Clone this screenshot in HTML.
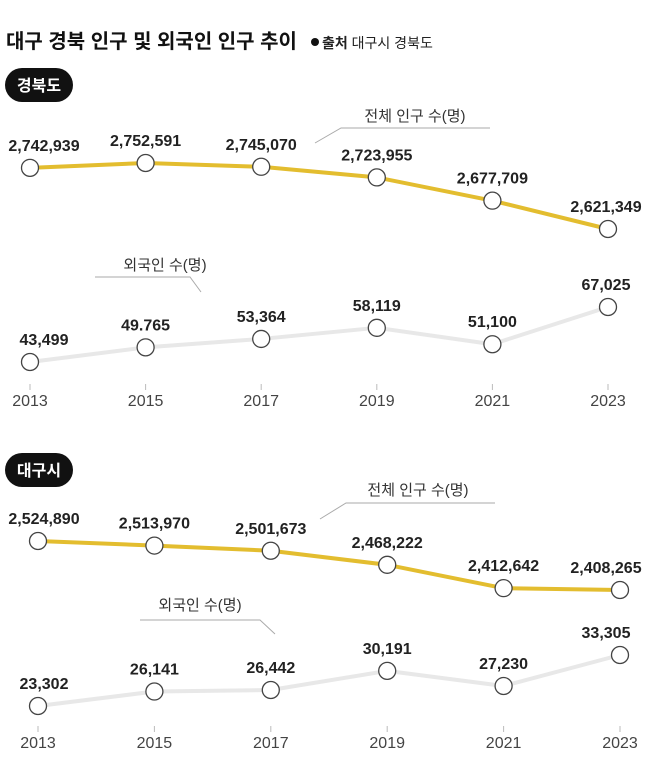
<!DOCTYPE html>
<html><head><meta charset="utf-8">
<style>
body{margin:0;background:#fff;width:650px;height:781px;overflow:hidden;font-family:"Liberation Sans","Noto Sans CJK KR",sans-serif;}
svg{display:block}
</style></head>
<body>
<svg width="650" height="781" viewBox="0 0 650 781" id="chart">
<text x="6" y="48" font-size="20" font-weight="bold" fill="#111">대구 경북 인구 및 외국인 인구 추이</text>
<circle cx="315" cy="42" r="4" fill="#111"/>
<text x="322" y="48" font-size="14" fill="#222"><tspan font-weight="bold">출처</tspan> 대구시 경북도</text>
<g id="root"></g>
</svg>
<script>
const years = ["2013","2015","2017","2019","2021","2023"];
const gbTotal = [2742939,2752591,2745070,2723955,2677709,2621349];
const gbTotalLabels = ["2,742,939","2,752,591","2,745,070","2,723,955","2,677,709","2,621,349"];
const gbForeign = [43499,49765,53364,58119,51100,67025];
const gbForeignLabels = ["43,499","49.765","53,364","58,119","51,100","67,025"];
const dgTotal = [2524890,2513970,2501673,2468222,2412642,2408265];
const dgTotalLabels = ["2,524,890","2,513,970","2,501,673","2,468,222","2,412,642","2,408,265"];
const dgForeign = [23302,26141,26442,30191,27230,33305];
const dgForeignLabels = ["23,302","26,141","26,442","30,191","27,230","33,305"];

const NS="http://www.w3.org/2000/svg";
const root=document.getElementById('root');
function mk(tag,attrs,parent){const e=document.createElementNS(NS,tag);for(const k in attrs)e.setAttribute(k,attrs[k]);(parent||root).appendChild(e);return e;}
function linScale(d0,d1,r0,r1){return v=>r0+(v-d0)/(d1-d0)*(r1-r0);}

function panel(name,x0,x1,pillY,total,totalLabels,tScale,foreign,foreignLabels,fScale,yearY,annT,annF){
  const g=mk('g',{});
  
  
  const xs=i=>x0+i*(x1-x0)/(years.length-1);
  const pill=mk('rect',{x:5,y:pillY,width:68,height:34,rx:17,fill:'#111'},g);
  
  
  const pt=mk('text',{x:39,y:pillY+23,'font-size':16,'font-weight':'bold',fill:'#fff','text-anchor':'middle'},g);
  pt.textContent=name==='gyeongbuk'?'경북도':'대구시';
  
  
  // annotations
  [[annT,'전체 인구 수(명)','total'],[annF,'외국인 수(명)','foreign']].forEach(([a,txt,k])=>{
    const p=mk('polyline',{points:a.pts,fill:'none',stroke:'#aaa','stroke-width':1},g);
    
    
    const t=mk('text',{x:a.tx,y:a.ty,'font-size':15,fill:'#333','text-anchor':'middle'},g);
    t.textContent=txt;
    
    
  });
  // years
  years.forEach((y,i)=>{
    const tk=mk('line',{x1:xs(i),x2:xs(i),y1:yearY-22,y2:yearY-16,stroke:'#bbb','stroke-width':1},g);
    
    
    const t=mk('text',{x:xs(i),y:yearY,'font-size':16,fill:'#444','text-anchor':'middle'},g);
    t.textContent=y;
    
    
  });
  function series(vals,labels,sc,color,k){
    const pts=vals.map((v,i)=>xs(i)+','+sc(v)).join(' ');
    const l=mk('polyline',{points:pts,fill:'none',stroke:color,'stroke-width':4,'stroke-linejoin':'round'},g);
    
    
    vals.forEach((v,i)=>{
      const c=mk('circle',{cx:xs(i),cy:sc(v),r:8.5,fill:'#fff',stroke:'#444','stroke-width':1.3},g);
      
      
      let lx=Math.min(Math.max(xs(i),44),606);
      const t=mk('text',{x:lx,y:sc(v)-17,'font-size':16,'font-weight':'bold',fill:'#222','text-anchor':'middle'},g);
      t.textContent=labels[i];
      
      
    });
  }
  series(total,totalLabels,tScale,'#e3bd2f','total');
  series(foreign,foreignLabels,fScale,'#e8e8e8','foreign');
}

panel('gyeongbuk',30,608,68,gbTotal,gbTotalLabels,linScale(2752591,2621349,163,229),
  gbForeign,gbForeignLabels,linScale(43499,67025,362,307),406,
  {pts:'315,143 341,128 490,128',tx:415,ty:121},{pts:'95,277 190,277 201,292',tx:165,ty:270});
panel('daegu',38,620,453,dgTotal,dgTotalLabels,linScale(2524890,2408265,541,590),
  dgForeign,dgForeignLabels,linScale(23302,33305,706,655),748,
  {pts:'320,519 346,503 495,503',tx:418,ty:495},{pts:'140,620 260,620 275,634',tx:200,ty:610});
</script>
</body></html>
